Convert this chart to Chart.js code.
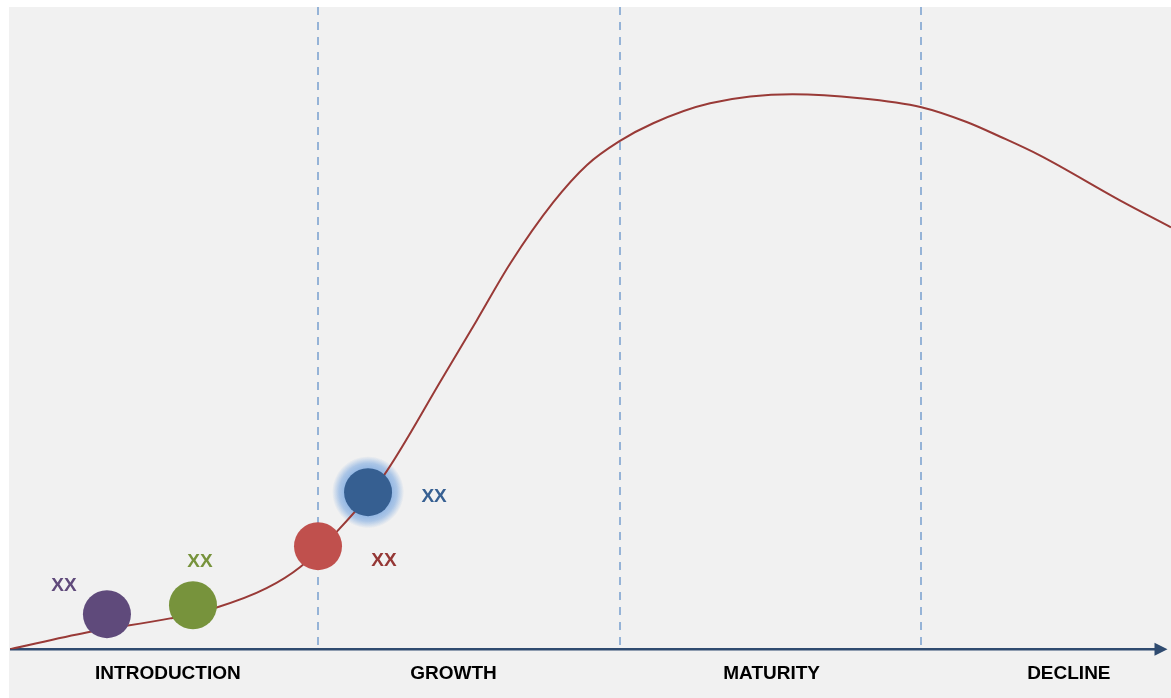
<!DOCTYPE html>
<html lang="en">
<head>
    <meta charset="UTF-8">
    <title>Product Life Cycle</title>
    <style>
        body {
            margin: 0;
            background: #ffffff;
        }
        .panel {
            position: absolute;
            left: 9px;
            top: 7px;
            width: 1162px;
            height: 691px;
            background: #f1f1f1;
        }
    </style>
</head>
<body>
    <div class="panel">
        <canvas id="lifecycle"></canvas>
    </div>

    <script src="https://cdn.jsdelivr.net/npm/chart.js"></script>
    <script>
        // stages along the time axis (0-100)
        const stageNames = ['INTRODUCTION', 'GROWTH', 'MATURITY', 'DECLINE'];
        const stageLabelAt = [13.6, 38.2, 65.6, 91.2];
        const stageBounds = [26.5, 52.5, 78.5];

        // sales curve
        const curveX = [0, 6.6, 13.8, 17.8, 22.1, 25.0, 28.25, 32.1, 37.3, 40.2, 43.1, 46.8, 49.7, 52.5, 55.4, 60.3, 67.4, 73.2, 78.5, 82.4, 85.3, 88.7, 95.6, 100];
        const curveY = [0, 2.6, 4.8, 6.5, 9.5, 12.8, 18.5, 26.8, 42.4, 51.2, 60.1, 69.6, 75.4, 79.1, 81.9, 85.0, 86.4, 85.8, 84.4, 82.1, 79.8, 76.9, 69.9, 65.7];

        // products placed on the curve
        const markerX = [8.35, 15.76, 26.53, 30.84];
        const markerY = [5.45, 6.85, 16.04, 24.45];
        const markerLabels = ['XX', 'XX', 'XX', 'XX'];
        const markerColors = ['#5f4a7b', '#77933c', '#c0504d', '#365f91'];
        const markerTextColors = ['#604a7b', '#77933c', '#953735', '#376092'];
        const labelOffsets = [[-43, -28], [7, -43], [66, 15], [66, 5]];
        const glowIndex = 3;

        const stagePlugin = {
            id: 'stages',
            beforeDatasetsDraw(chart) {
                const { ctx, chartArea, scales } = chart;
                const x = scales.x, y = scales.y;
                ctx.save();

                // dashed stage separators
                ctx.strokeStyle = '#95b3d7';
                ctx.lineWidth = 2;
                ctx.setLineDash([8, 7]);
                stageBounds.forEach(v => {
                    const px = Math.round(x.getPixelForValue(v));
                    ctx.beginPath();
                    ctx.moveTo(px, chartArea.top);
                    ctx.lineTo(px, chartArea.bottom);
                    ctx.stroke();
                });
                ctx.setLineDash([]);

                // time axis with arrow
                const ay = y.getPixelForValue(0);
                const x0 = x.getPixelForValue(0);
                const tip = x.getPixelForValue(99.7);
                ctx.strokeStyle = '#2f4b70';
                ctx.fillStyle = '#2f4b70';
                ctx.lineWidth = 2.5;
                ctx.beginPath();
                ctx.moveTo(x0, ay);
                ctx.lineTo(tip - 10, ay);
                ctx.stroke();
                ctx.beginPath();
                ctx.moveTo(tip, ay);
                ctx.lineTo(tip - 13, ay - 6.5);
                ctx.lineTo(tip - 13, ay + 6.5);
                ctx.closePath();
                ctx.fill();

                // soft halo behind the highlighted product
                const gx = x.getPixelForValue(markerX[glowIndex]);
                const gy = y.getPixelForValue(markerY[glowIndex]);
                const g = ctx.createRadialGradient(gx, gy, 22, gx, gy, 36);
                g.addColorStop(0, 'rgba(141,179,226,1)');
                g.addColorStop(0.5, 'rgba(141,179,226,0.7)');
                g.addColorStop(1, 'rgba(141,179,226,0)');
                ctx.fillStyle = g;
                ctx.beginPath();
                ctx.arc(gx, gy, 36, 0, Math.PI * 2);
                ctx.fill();
                ctx.restore();
            },
            afterDatasetsDraw(chart) {
                const { ctx, scales } = chart;
                ctx.save();
                ctx.font = 'bold 19px "Liberation Sans", Arial, sans-serif';
                ctx.textAlign = 'center';
                ctx.textBaseline = 'middle';
                markerLabels.forEach((txt, i) => {
                    const px = scales.x.getPixelForValue(markerX[i]) + labelOffsets[i][0];
                    const py = scales.y.getPixelForValue(markerY[i]) + labelOffsets[i][1];
                    ctx.fillStyle = markerTextColors[i];
                    ctx.fillText(txt, px, py);
                });
                ctx.restore();
            }
        };

        const ctx = document.getElementById('lifecycle').getContext('2d');
        new Chart(ctx, {
            type: 'scatter',
            data: {
                datasets: [
                    {
                        label: 'Products',
                        data: markerX.map((v, i) => ({ x: v, y: markerY[i] })),
                        backgroundColor: markerColors,
                        borderWidth: 0,
                        pointRadius: 24,
                        pointHoverRadius: 24,
                        clip: false,
                        order: 0
                    },
                    {
                        label: 'Sales',
                        data: curveX.map((v, i) => ({ x: v, y: curveY[i] })),
                        showLine: true,
                        borderColor: '#993a37',
                        borderWidth: 2,
                        pointRadius: 0,
                        cubicInterpolationMode: 'monotone',
                        order: 1
                    }
                ]
            },
            options: {
                responsive: true,
                maintainAspectRatio: false,
                animation: false,
                layout: {
                    autoPadding: false,
                    padding: { left: 1, right: 0, top: 0, bottom: 0 }
                },
                plugins: {
                    legend: { display: false },
                    tooltip: { enabled: false }
                },
                scales: {
                    x: {
                        type: 'linear',
                        min: 0,
                        max: 100,
                        afterBuildTicks: axis => {
                            axis.ticks = stageLabelAt.map(v => ({ value: v }));
                        },
                        grid: { display: false, drawTicks: false },
                        border: { display: false },
                        ticks: {
                            autoSkip: false,
                            maxRotation: 0,
                            padding: 13,
                            color: '#000000',
                            font: { family: '"Liberation Sans", Arial, sans-serif', size: 19, weight: 'bold' },
                            callback: (value) => stageNames[stageLabelAt.indexOf(value)]
                        }
                    },
                    y: {
                        display: false,
                        min: 0,
                        max: 100
                    }
                }
            },
            plugins: [stagePlugin]
        });
    </script>
</body>
</html>
